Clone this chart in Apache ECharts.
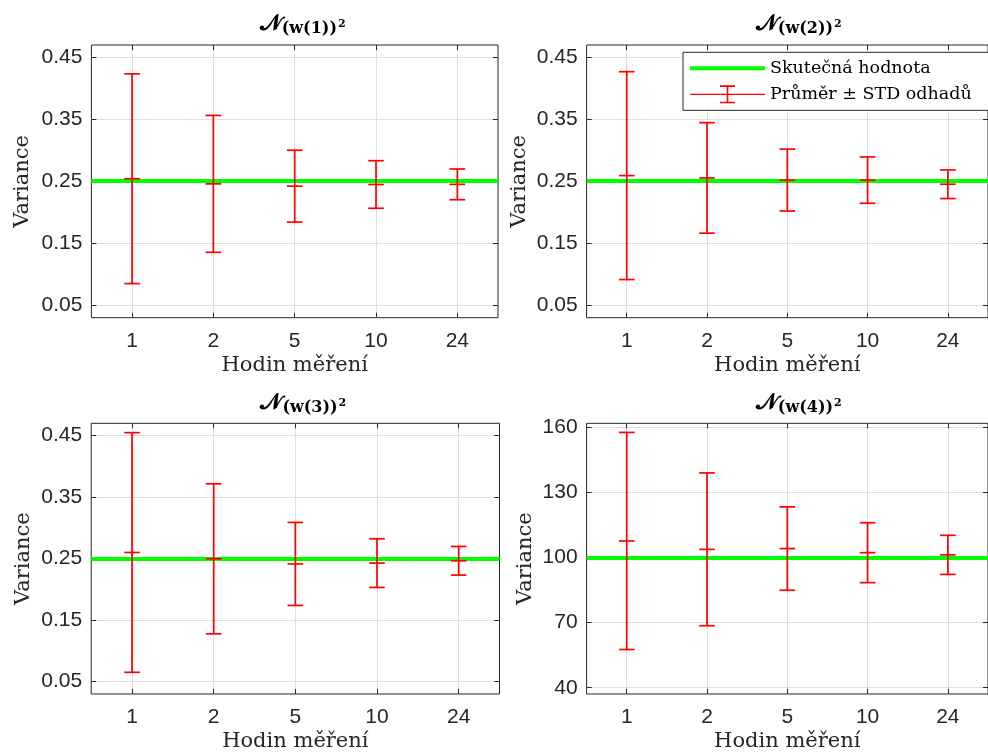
<!DOCTYPE html>
<html><head><meta charset="utf-8">
<script src="https://cdn.jsdelivr.net/npm/echarts@6/dist/echarts.min.js"></script>
<style>html,body{margin:0;padding:0;background:#fff;overflow:hidden}#c{width:988px;height:756px}</style>
</head><body><div id="c"></div>
<script>
// ---- data ----
const hours = ['1', '2', '5', '10', '24'];
const panelIds = ['1', '2', '3', '4'];
const mean1 = [0.254, 0.2457, 0.242, 0.2447, 0.2449];
const std1  = [0.1693, 0.1105, 0.058, 0.0384, 0.0248];
const mean2 = [0.259, 0.2553, 0.2518, 0.2518, 0.2451];
const std2  = [0.1678, 0.0892, 0.050, 0.0374, 0.0231];
const mean3 = [0.2598, 0.2495, 0.2412, 0.2425, 0.2463];
const std3  = [0.1949, 0.122, 0.0675, 0.0396, 0.0233];
const mean4 = [107.6, 103.75, 104.1, 102.2, 101.2];
const std4  = [50.0, 35.2, 19.2, 13.8, 9.0];
const trueValues = [0.25, 0.25, 0.25, 100];
const yTicksSmall = [0.05, 0.15, 0.25, 0.35, 0.45];
const yTicksLarge = [40, 70, 100, 130, 160];
const yMin = [0.0296, 0.0296, 0.0296, 37.1];
const yMax = [0.4699, 0.4699, 0.4699, 161.8];
const trueName = 'Skutečná hodnota';
const estName = 'Průměr ± STD odhadů';
const xName = 'Hodin měření';
const yName = 'Variance';

const means = [mean1, mean2, mean3, mean4];
const stds = [std1, std2, std3, std4];
const yTicks = [yTicksSmall, yTicksSmall, yTicksSmall, yTicksLarge];

// ---- layout ----
const grids = [
  {left: 91.4, top: 45, width: 406.6, height: 272.7},
  {left: 586.6, top: 45, width: 408.3, height: 272.7},
  {left: 91.2, top: 423.3, width: 408.3, height: 270.7},
  {left: 586.6, top: 423.3, width: 408.3, height: 270.7}
];
const yNameGaps = [58, 57, 57, 51];
const titleTops = [6, 6, 385, 385];
const AX = '#262626';
const GRIDC = '#dfdfdf';
const SERIF = '"DejaVu Serif", serif';
const SANS = '"Liberation Sans", Arial, sans-serif';

const xAxes = [], yAxes = [], series = [], titles = [];
grids.forEach((g, i) => {
  xAxes.push({
    type: 'category', gridIndex: i, data: hours, boundaryGap: true,
    name: xName, nameLocation: 'middle', nameGap: 37,
    nameTextStyle: {fontFamily: SERIF, fontSize: 21, color: AX},
    axisLine: {show: false},
    axisTick: {show: true, inside: true, alignWithLabel: true, length: 5, lineStyle: {color: AX}},
    axisLabel: {fontFamily: SANS, fontSize: 21, color: AX, margin: 13},
    splitLine: {show: true, alignWithLabel: true, lineStyle: {color: GRIDC, width: 1}}
  });
  yAxes.push({
    type: 'value', gridIndex: i, min: yMin[i], max: yMax[i],
    name: yName, nameLocation: 'middle', nameGap: yNameGaps[i],
    nameTextStyle: {fontFamily: SERIF, fontSize: 21, color: AX},
    axisLine: {show: false},
    axisTick: {show: true, inside: true, length: 5, customValues: yTicks[i], lineStyle: {color: AX}},
    axisLabel: {fontFamily: SANS, fontSize: 21, color: AX, margin: 9, customValues: yTicks[i],
      formatter: v => (i === 3 ? String(v) : v.toFixed(2))},
    splitLine: {show: true, lineStyle: {color: GRIDC, width: 1}}
  });
});
grids.forEach((g, i) => {
  xAxes.push({
    type: 'category', gridIndex: i, data: hours, boundaryGap: true, position: 'top',
    axisLine: {show: false},
    axisTick: {show: true, inside: true, alignWithLabel: true, length: 5, lineStyle: {color: AX}},
    axisLabel: {show: false}, splitLine: {show: false}
  });
  yAxes.push({
    type: 'value', gridIndex: i, min: yMin[i], max: yMax[i], position: 'right',
    axisLine: {show: false},
    axisTick: {show: true, inside: true, length: 5, customValues: yTicks[i], lineStyle: {color: AX}},
    axisLabel: {show: false, customValues: yTicks[i]}, splitLine: {show: false}
  });
});

grids.forEach((g, i) => {
  const data = hours.map((h, k) => [k, means[i][k], stds[i][k]]);
  series.push({
    name: trueName, type: 'line', xAxisIndex: i, yAxisIndex: i, z: 3,
    data: [], itemStyle: {color: '#00ff00'}, lineStyle: {color: '#00ff00', width: 4},
    markLine: {
      silent: true, symbol: 'none', animation: false,
      label: {show: false},
      lineStyle: {color: '#00ff00', width: 4, type: 'solid'},
      data: [{yAxis: trueValues[i]}]
    }
  });
  series.push({
    name: estName, type: 'custom', xAxisIndex: i, yAxisIndex: i, z: 5,
    itemStyle: {color: '#ff0000'},
    data: data,
    renderItem: function (params, api) {
      const x = api.value(0), m = api.value(1), s = api.value(2);
      const pt = api.coord([x, m + s]);
      const pb = api.coord([x, m - s]);
      const pm = api.coord([x, m]);
      const hw = 7.8;
      const st = {stroke: '#ff0000', lineWidth: 1.7, fill: null};
      return {type: 'group', children: [
        {type: 'line', shape: {x1: pt[0], y1: pt[1], x2: pb[0], y2: pb[1]}, style: st},
        {type: 'line', shape: {x1: pt[0] - hw, y1: pt[1], x2: pt[0] + hw, y2: pt[1]}, style: st},
        {type: 'line', shape: {x1: pb[0] - hw, y1: pb[1], x2: pb[0] + hw, y2: pb[1]}, style: st},
        {type: 'line', shape: {x1: pm[0] - hw, y1: pm[1], x2: pm[0] + hw, y2: pm[1]}, style: st}
      ]};
    }
  });
  titles.push({
    text: '{n|𝒩}{s|(}{b|w(' + panelIds[i] + ')}{s|)}{sup|2}',
    left: g.left + g.width / 2 + 3, top: titleTops[i], textAlign: 'center',
    textStyle: {
      rich: {
        n: {fontFamily: SERIF, fontSize: 23, color: '#000'},
        s: {fontFamily: SERIF, fontSize: 16, color: '#000', padding: [10, 0, 0, 0]},
        b: {fontFamily: SERIF, fontSize: 16, fontWeight: 'bold', color: '#000', padding: [10, 0, 0, 0]},
        sup: {fontFamily: SERIF, fontSize: 11, fontWeight: 'bold', color: '#000', padding: [1, 0, 0, 1]}
      }
    }
  });
});

const errIcon = 'path://M0,8.4H75V9.6H0Z M36.7,0H38.3V18H36.7Z M30,0H45V1.6H30Z M30,16.4H45V18H30Z';
const lineIcon = 'path://M0,7H75V11H0Z';

const option = {
  backgroundColor: '#fff',
  animation: false,
  title: titles,
  grid: grids.map(g => Object.assign({show: true, borderColor: AX, borderWidth: 1, backgroundColor: 'transparent'}, g)),
  xAxis: xAxes,
  yAxis: yAxes,
  legend: {
    left: 683, top: 52.3, orient: 'vertical',
    padding: [7, 40, 7, 7], itemWidth: 75, itemHeight: 18, itemGap: 8,
    backgroundColor: '#fff', borderColor: AX, borderWidth: 1, borderRadius: 0,
    symbolKeepAspect: true, selectedMode: false,
    textStyle: {fontFamily: SERIF, fontSize: 17.5, color: '#000'},
    data: [
      {name: trueName, icon: lineIcon, itemStyle: {color: '#00ff00', borderWidth: 0}},
      {name: estName, icon: errIcon, itemStyle: {color: '#ff0000', borderWidth: 0}}
    ]
  },
  series: series
};
const chart = echarts.init(document.getElementById('c'), null, {renderer: 'canvas'});
chart.setOption(option);
</script>
</body></html>
